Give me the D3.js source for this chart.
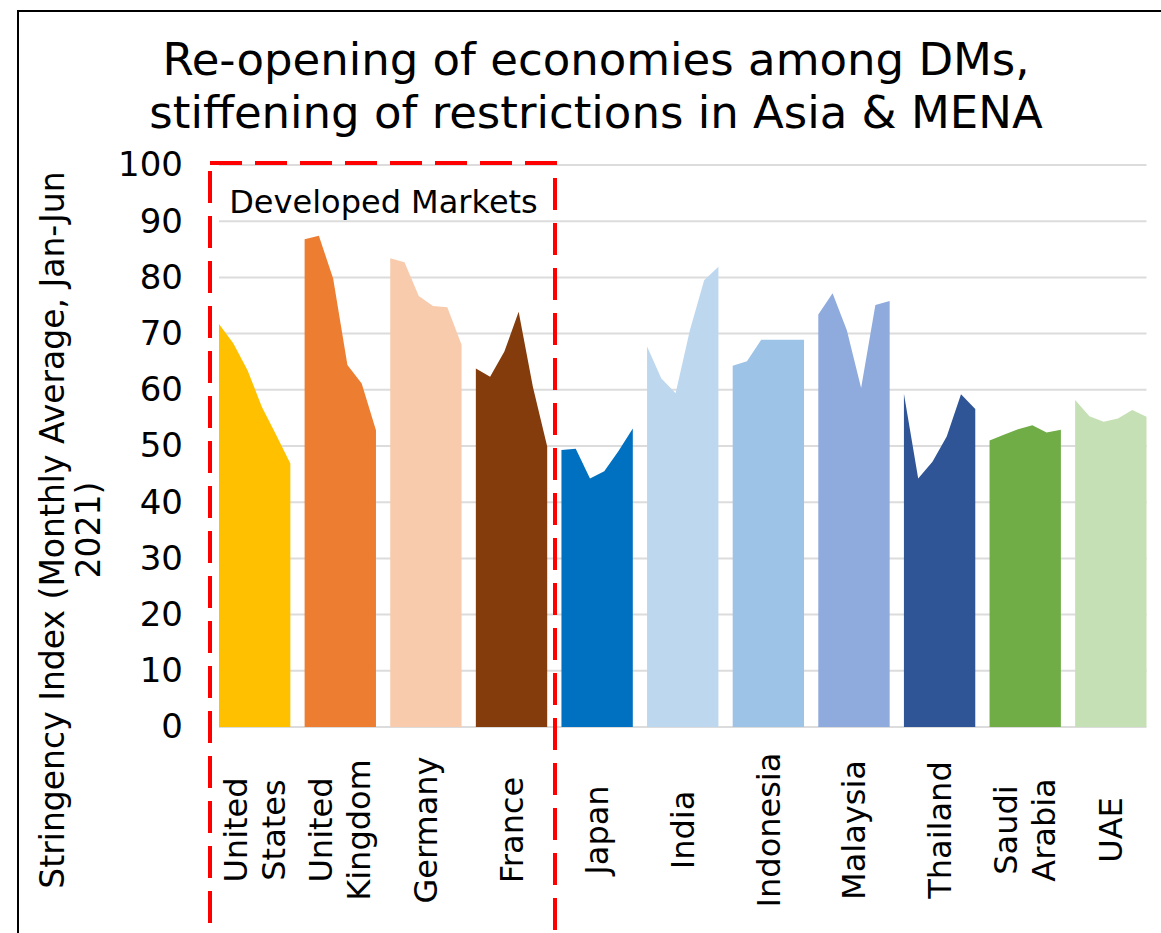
<!DOCTYPE html>
<html>
<head>
<meta charset="utf-8">
<script src="https://cdn.jsdelivr.net/npm/d3@7"></script>
<style>
  body { margin: 0; background: #fff; }
  svg text { font-family: "DejaVu Sans", Verdana, sans-serif; fill: #000; }
</style>
</head>
<body>
<svg id="chart" width="1161" height="933"></svg>
<script>
// country names and how each label is split into lines
const countries = ["United States", "United Kingdom", "Germany", "France", "Japan",
    "India", "Indonesia", "Malaysia", "Thailand", "Saudi Arabia", "UAE"];
const labelLines = [["United", "States"], ["United", "Kingdom"], ["Germany"], ["France"], ["Japan"],
    ["India"], ["Indonesia"], ["Malaysia"], ["Thailand"], ["Saudi", "Arabia"], ["UAE"]];
const months = ["Jan", "Feb", "Mar", "Apr", "May", "Jun"];

// stringency index, monthly average Jan-Jun 2021
const usValues = [71.7, 68.3, 63.5, 57.0, 52.0, 46.9];
const ukValues = [86.8, 87.4, 79.8, 64.4, 61.1, 52.8];
const germanyValues = [83.4, 82.7, 76.7, 74.9, 74.7, 68.0];
const franceValues = [63.8, 62.3, 66.8, 73.9, 60.5, 49.9];
const japanValues = [49.3, 49.5, 44.2, 45.5, 49.1, 53.1];
const indiaValues = [67.7, 62.0, 59.4, 70.6, 79.5, 81.9];
const indonesiaValues = [64.3, 65.1, 68.9, 68.9, 68.9, 68.9];
const malaysiaValues = [73.4, 77.2, 70.6, 60.3, 75.1, 75.8];
const thailandValues = [59.3, 44.2, 47.2, 51.7, 59.2, 56.6];
const saudiValues = [51.0, 52.0, 53.0, 53.7, 52.4, 52.9];
const uaeValues = [58.2, 55.3, 54.3, 54.9, 56.4, 55.2];

const colors = ["#FFC000", "#ED7D31", "#F8CBAD", "#843C0C", "#0070C0",
    "#BDD7EE", "#9DC3E6", "#8FAADC", "#2F5597", "#70AD47", "#C5E0B4"];
const yTicks = [0, 10, 20, 30, 40, 50, 60, 70, 80, 90, 100];

const seriesValues = [usValues, ukValues, germanyValues, franceValues, japanValues,
    indiaValues, indonesiaValues, malaysiaValues, thailandValues, saudiValues, uaeValues];

var width = 1161,
    height = 933;

var plot = { left: 219, right: 1146.5, top: 165, bottom: 727 };

var svg = d3.select("svg#chart");

// one slot per month, 6 per country, last slot of each country left empty
var step = (plot.right - plot.left) / (countries.length * months.length - 1);

var x = d3.scaleBand()
    .domain(countries)
    .range([plot.left, plot.left + step * countries.length * months.length]);

var xMonth = d3.scalePoint()
    .domain(months)
    .range([0, step * (months.length - 1)]);

var y = d3.scaleLinear()
    .domain([0, 100])
    .range([plot.bottom, plot.top]);

// outer frame
svg.append("rect")
    .attr("x", 18).attr("y", 11)
    .attr("width", 1200).attr("height", 1000)
    .attr("fill", "none")
    .attr("stroke", "#000")
    .attr("stroke-width", 2);

// title
var title = svg.append("text")
    .attr("text-anchor", "middle")
    .style("font-size", "45px");
title.append("tspan").attr("x", 596).attr("y", 75).text("Re-opening of economies among DMs,");
title.append("tspan").attr("x", 596).attr("y", 128).text("stiffening of restrictions in Asia & MENA");

// gridlines
svg.append("g").attr("class", "grid")
    .selectAll("line")
    .data(yTicks)
    .enter()
    .append("line")
    .attr("x1", plot.left)
    .attr("x2", plot.right)
    .attr("y1", d => y(d))
    .attr("y2", d => y(d))
    .attr("stroke", "#dcdcdc")
    .attr("stroke-width", 2);

// areas
var area = d3.area()
    .x(d => d.x)
    .y0(y(0))
    .y1(d => y(d.v));

svg.append("g").attr("class", "areas")
    .selectAll("path")
    .data(countries)
    .enter()
    .append("path")
    .attr("d", (c, i) => area(months.map((m, j) => ({ x: x(c) + xMonth(m), v: seriesValues[i][j] }))))
    .attr("fill", (c, i) => colors[i]);

// y axis
var yAxis = d3.axisLeft(y).tickValues(yTicks).tickSize(0).tickPadding(36);
var yG = svg.append("g")
    .attr("transform", "translate(" + plot.left + ",0)")
    .call(yAxis);
yG.select(".domain").remove();
yG.selectAll("text")
    .style("font-size", "34px")
    .style("font-family", "DejaVu Sans, Verdana, sans-serif")
    .attr("fill", "#000");

// y axis title
var yTitle = svg.append("text")
    .attr("text-anchor", "middle")
    .attr("transform", "translate(0,530) rotate(-90)")
    .style("font-size", "33px");
yTitle.append("tspan").attr("x", 0).attr("y", 64).text("Stringency Index (Monthly Average, Jan-Jun");
yTitle.append("tspan").attr("x", 0).attr("y", 100).text("2021)");

// category labels
var labels = svg.append("g").attr("class", "x-labels")
    .selectAll("text")
    .data(countries)
    .enter()
    .append("text")
    .attr("text-anchor", "middle")
    .style("font-size", "32px")
    .attr("transform", c => "translate(" + (x(c) + xMonth.range()[1] / 2) + ",830) rotate(-90)");

labels.each(function(c, i) {
    let lines = labelLines[i];
    let sel = d3.select(this);
    lines.forEach(function(line, k) {
        let offset = (k - (lines.length - 1) / 2) * 38;
        sel.append("tspan")
            .attr("x", 0)
            .attr("y", offset)
            .attr("dy", "0.35em")
            .text(line);
    });
});

// developed markets box
var dmLeft = 210, dmRight = 555;
svg.append("rect")
    .attr("x", dmLeft).attr("y", 163)
    .attr("width", dmRight - dmLeft)
    .attr("height", 800)
    .attr("fill", "none")
    .attr("stroke", "#FF0000")
    .attr("stroke-width", 4)
    .attr("stroke-dasharray", "32,13");

svg.append("text")
    .attr("x", (dmLeft + dmRight) / 2 + 1)
    .attr("y", 213)
    .attr("text-anchor", "middle")
    .style("font-size", "32px")
    .text("Developed Markets");
</script>
</body>
</html>
